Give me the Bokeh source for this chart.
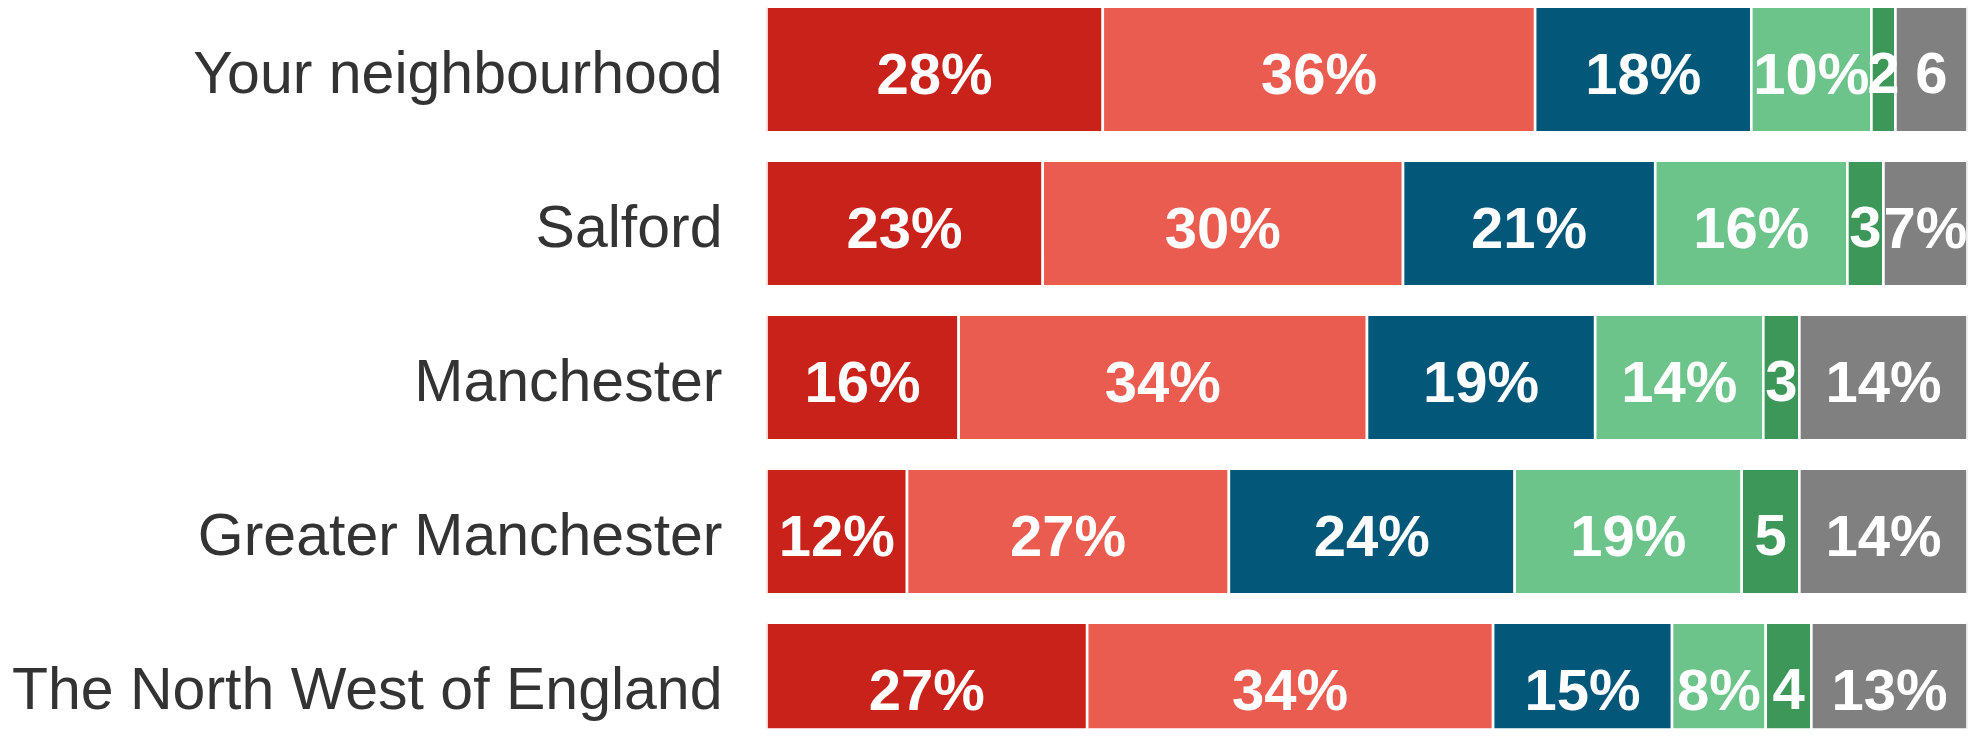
from bokeh.plotting import figure
from bokeh.models import Range1d, ColumnDataSource, LinearAxis, FixedTicker
from bokeh.core.properties import value
from bokeh.embed import file_html
from bokeh.resources import INLINE

categories = ["Your neighbourhood", "Salford", "Manchester",
              "Greater Manchester", "The North West of England"]
s1 = [28, 23, 16, 11.7, 26.7]
s2 = [36, 30, 34, 26.8, 33.8]
s3 = [18, 21, 19, 23.8, 14.9]
s4 = [10, 16, 14, 18.9, 7.8]
s5 = [2, 3, 3, 4.8, 3.8]
s6 = [6, 7, 14, 14.0, 13.0]
series = [s1, s2, s3, s4, s5, s6]
names = ["s1", "s2", "s3", "s4", "s5", "s6"]
colors = ["#C9221A", "#EA5B50", "#03587A", "#6CC48A", "#3D9759", "#808080"]

rows = list(range(len(categories)))
data = {"y": rows}
for n, s in zip(names, series):
    data[n] = s
src = ColumnDataSource(data)

p = figure(width=1970, height=729, output_backend="svg", toolbar_location=None,
           x_range=Range1d(0, 100), y_range=Range1d(4.286, -0.448),
           min_border_left=766, min_border_right=3, min_border_top=0,
           min_border_bottom=0, x_axis_location=None, y_axis_location=None,
           background_fill_color="white", border_fill_color="white")
p.outline_line_color = None
p.xgrid.visible = False
p.ygrid.visible = False

p.hbar_stack(names, y="y", height=0.815, color=colors, source=src,
             line_color="white", line_width=2.6)

# labels
lx, ly, lt = [], [], []
for i in rows:
    left = 0.0
    for s in series:
        v = s[i]
        lx.append(left + v / 2.0)
        ly.append(i)
        r = int(round(v))
        lt.append(f"{r}%" if r >= 7 else f"{r}")
        left += v
lsrc = ColumnDataSource(dict(x=lx, y=ly, t=lt))
p.text(x="x", y="y", text="t", source=lsrc, text_align="center",
       text_baseline="middle", text_font=value("Liberation Sans"),
       text_font_style="bold", text_font_size="58px", text_color="white",
       y_offset=4)

shift = 0.025
ticks = [i + shift for i in rows]
ax = LinearAxis(ticker=FixedTicker(ticks=ticks),
                major_label_overrides={t: c for t, c in zip(ticks, categories)})
ax.axis_line_color = None
ax.major_tick_line_color = None
ax.minor_tick_line_color = None
ax.major_tick_out = 0
ax.major_tick_in = 0
ax.major_label_standoff = 44
ax.major_label_text_font = "Liberation Sans"
ax.major_label_text_font_size = "59px"
ax.major_label_text_color = "#333333"
p.add_layout(ax, "left")

open("out.html", "w").write(file_html(p, INLINE))
